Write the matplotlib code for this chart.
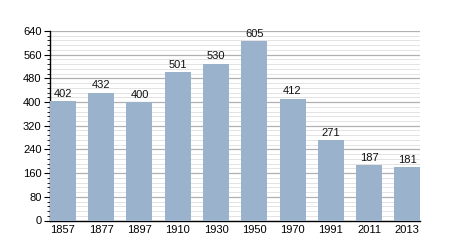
import matplotlib
matplotlib.use("Agg")
import matplotlib.pyplot as plt
from matplotlib.ticker import MultipleLocator

plt.rcParams['font.family'] = ['Liberation Sans', 'DejaVu Sans']

years = ["1857", "1877", "1897", "1910", "1930", "1950", "1970", "1991", "2011", "2013"]
population = [402, 432, 400, 501, 530, 605, 412, 271, 187, 181]

fig = plt.figure(figsize=(4.5, 2.5), dpi=100)
ax = fig.add_axes([0.111, 0.118, 0.823, 0.758])

x = list(range(len(years)))
w = 0.68
ax.bar(x, population, width=w, color="#9ab2cc", zorder=3)
for xi, v in zip(x, population):
    ax.text(xi, v + 8, str(v), ha="center", va="bottom", fontsize=8, color="#111111", zorder=4)

ax.set_xlim(-w / 2, len(years) - 1 + w / 2)
ax.set_ylim(0, 640)
ax.yaxis.set_major_locator(MultipleLocator(80))
ax.yaxis.set_minor_locator(MultipleLocator(16))
ax.grid(which="major", axis="y", color="#b0b0b0", linewidth=0.9, zorder=1)
ax.grid(which="minor", axis="y", color="#e3e3e3", linewidth=0.7, zorder=1)
ax.set_xticks(x)
ax.set_xticklabels(years)
ax.tick_params(axis="x", length=0, labelsize=8, pad=3)
ax.tick_params(axis="y", which="major", length=4, width=0.8, labelsize=8, pad=2)
ax.tick_params(axis="y", which="minor", length=2, width=0.6)
for s in ["top", "right"]:
    ax.spines[s].set_visible(False)
ax.spines["left"].set_linewidth(1.0)
ax.spines["bottom"].set_linewidth(1.0)

fig.savefig("out.png", dpi=100)
